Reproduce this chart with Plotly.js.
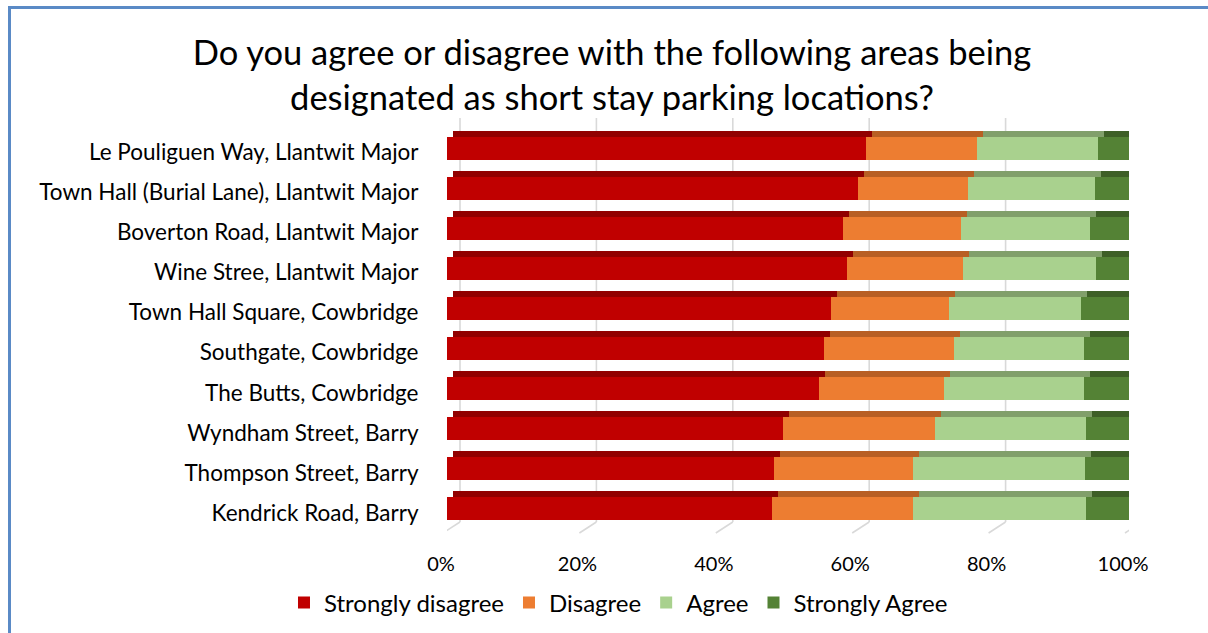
<!DOCTYPE html>
<html>
<head>
<meta charset="utf-8">
<script src="https://cdn.plot.ly/plotly-3.0.1.min.js"></script>
<style>
  html, body { margin: 0; padding: 0; background: #ffffff; overflow: hidden; }
  #chart { position: absolute; left: 0; top: 0; width: 1208px; height: 633px; }
  #frame { position: absolute; left: 8px; top: 6px; width: 2000px; height: 2000px;
           border-left: 3px solid #5a8ac6; border-top: 3px solid #5a8ac6; pointer-events: none; }
</style>
</head>
<body>
<div id="chart"></div>
<div id="frame"></div>
<script>
const categories = [
  "Le Pouliguen Way, Llantwit Major",
  "Town Hall (Burial Lane), Llantwit Major",
  "Boverton Road, Llantwit Major",
  "Wine Stree, Llantwit Major",
  "Town Hall Square, Cowbridge",
  "Southgate, Cowbridge",
  "The Butts, Cowbridge",
  "Wyndham Street, Barry",
  "Thompson Street, Barry",
  "Kendrick Road, Barry"
];
const stronglyDisagree = [61.4, 60.3, 58.1, 58.7, 56.3, 55.3, 54.5, 49.3, 48.0, 47.6];
const disagree         = [16.3, 16.1, 17.2, 16.9, 17.3, 19.1, 18.4, 22.3, 20.4, 20.8];
const agree            = [17.7, 18.6, 19.0, 19.6, 19.4, 19.0, 20.5, 22.1, 25.1, 25.3];
const stronglyAgree    = [4.6, 5.0, 5.7, 4.8, 7.0, 6.6, 6.6, 6.3, 6.5, 6.3];
const seriesNames = ["Strongly disagree", "Disagree", "Agree", "Strongly Agree"];
const tickValues = [0, 20, 40, 60, 80, 100];

const seriesValues = [stronglyDisagree, disagree, agree, stronglyAgree];
const faceColors = ["#c00000", "#ed7d31", "#a9d18e", "#548235"];
const topColors  = ["#910000", "#b85f24", "#819f6b", "#3e5f27"];
const FONT = "Lato, Carlito, Calibri, 'Open Sans', sans-serif";

const domainPx = 682;            // width of plot area in px
const rowPx = 40.1;              // height of one category row in px
const depthPx = 6;               // 3D depth offset of the bar tops
const unit = 100 / domainPx;
const barWidth = 0.574;

const traces = [];
// darker top slabs (3D depth), drawn first on the base subplot
seriesValues.forEach((vals, i) => {
  traces.push({
    type: "bar", orientation: "h", x: vals, y: categories,
    xaxis: "x", yaxis: "y", width: barWidth,
    marker: { color: topColors[i], line: { width: 0 } },
    showlegend: false, hoverinfo: "skip"
  });
});
// front faces
seriesValues.forEach((vals, i) => {
  traces.push({
    type: "bar", orientation: "h", x: vals, y: categories, name: seriesNames[i],
    xaxis: "x3", yaxis: "y2", width: barWidth,
    marker: { color: faceColors[i], line: { width: 0 } },
    hoverinfo: "skip"
  });
});

// back-wall gridlines and floor diagonals (3D axis decoration)
const gridStyle = { color: "#d9d9d9", width: 1.6 };
const shapes = [];
tickValues.forEach(v => {
  shapes.push({
    type: "line", layer: "below", xref: "x3", xsizemode: "pixel", xanchor: v,
    x0: 13, x1: 13, yref: "paper", ysizemode: "pixel", yanchor: 0, y0: 7, y1: 411,
    line: gridStyle
  });
  shapes.push({
    type: "line", layer: "below", xref: "x3", xsizemode: "pixel", xanchor: v,
    x0: 13, x1: -4, yref: "paper", ysizemode: "pixel", yanchor: 0, y0: 7, y1: -4,
    line: gridStyle
  });
});

const layout = {
  width: 1208, height: 633,
  paper_bgcolor: "#ffffff", plot_bgcolor: "rgba(0,0,0,0)",
  margin: { l: 447, r: 79, t: 128, b: 104 },
  barmode: "stack",
  hovermode: false,
  font: { family: FONT, color: "#000000" },
  title: {
    text: "Do you agree or disagree with the following areas being<br>designated as short stay parking locations?",
    font: { family: FONT, size: 34.5, color: "#000000" },
    xref: "container", yref: "container",
    x: 0.5066, xanchor: "center", y: 0.897, yanchor: "middle"
  },
  shapes: shapes,
  xaxis: {
    range: [-depthPx * unit, 100 - depthPx * unit],
    showgrid: false, showticklabels: false, zeroline: false, showline: false, fixedrange: true
  },
  xaxis3: {
    overlaying: "x", anchor: "y2",
    range: [0, 100], tickvals: tickValues, ticktext: tickValues.map(v => v + "%"),
    showgrid: false, zeroline: false, showline: false,
    ticks: "outside", ticklen: 17, tickcolor: "rgba(0,0,0,0)",
    ticklabelshift: -6,
    tickfont: { family: FONT, size: 20, color: "#000000" }, fixedrange: true
  },
  yaxis: {
    type: "category", categoryorder: "array", categoryarray: categories,
    range: [9.5 + depthPx / rowPx, -0.5 + depthPx / rowPx],
    showgrid: false, showticklabels: false, zeroline: false, showline: false, fixedrange: true
  },
  yaxis2: {
    overlaying: "y", anchor: "x3",
    type: "category", categoryorder: "array", categoryarray: categories,
    range: [9.5, -0.5],
    showgrid: false, zeroline: false, showline: false,
    ticks: "outside", ticklen: 23, tickcolor: "rgba(0,0,0,0)",
    ticklabelshift: -4,
    tickfont: { family: FONT, size: 22.5, color: "#000000" }, fixedrange: true
  },
  legend: {
    orientation: "h", xref: "container", yref: "container",
    x: 0.512, xanchor: "center", y: 0.0474, yanchor: "middle",
    traceorder: "normal",
    font: { family: FONT, size: 24, color: "#000000" },
    bgcolor: "rgba(0,0,0,0)"
  }
};

Plotly.newPlot("chart", traces, layout, { displayModeBar: false, staticPlot: true });
</script>
</body>
</html>
